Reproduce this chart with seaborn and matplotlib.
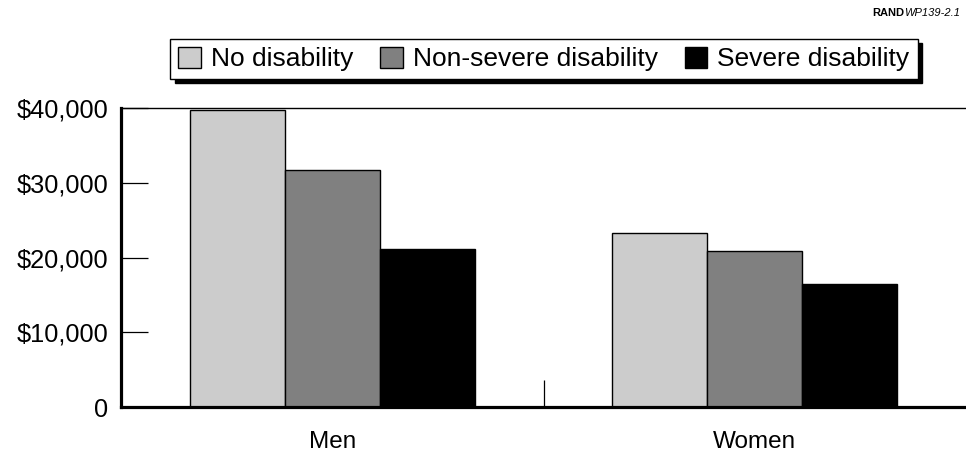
import pandas as pd
import seaborn as sns
import matplotlib.pyplot as plt
from matplotlib.ticker import FuncFormatter

# values (median earnings, dollars)
groups = ['Men', 'Women']
status = ['No disability', 'Non-severe disability', 'Severe disability']
men_vals = [39700, 31750, 21150]
women_vals = [23300, 20900, 16400]
colors = ['#cccccc', '#808080', '#000000']

df = pd.DataFrame({
    'group': [g for g in groups for _ in status],
    'status': status * 2,
    'earnings': men_vals + women_vals,
})

sns.set_style('white')
plt.rcParams['font.family'] = ['Liberation Sans', 'DejaVu Sans']
plt.rcParams['text.color'] = 'black'
plt.rcParams['xtick.color'] = 'black'
plt.rcParams['ytick.color'] = 'black'

fig = plt.figure(figsize=(9.66, 4.53), dpi=100)
ax = fig.add_axes([0.1253, 0.1015, 0.8747, 0.66])

sns.barplot(data=df, x='group', y='earnings', hue='status', hue_order=status,
            palette=colors, width=0.675, gap=0, edgecolor='black', linewidth=1,
            saturation=1, ax=ax, legend=False)

ax.set_xlim(-0.5, 1.5)
ax.set_ylim(0, 40000)
ax.set_yticks([0, 10000, 20000, 30000, 40000])
ax.yaxis.set_major_formatter(FuncFormatter(lambda v, p: '0' if v == 0 else f'${v:,.0f}'))
ax.set_xlabel('')
ax.set_ylabel('')

# spines
ax.spines['right'].set_visible(False)
ax.spines['left'].set_linewidth(2.3)
ax.spines['bottom'].set_linewidth(2.3)
ax.spines['top'].set_linewidth(1.0)
for s in ['left', 'bottom', 'top']:
    ax.spines[s].set_color('black')

ax.tick_params(axis='y', direction='in', length=19.5, width=0.9, color='black',
               labelsize=18.3, labelcolor='black', pad=9, left=True)
ax.tick_params(axis='x', which='major', length=0, labelsize=17.5, labelcolor='black', pad=17)
ax.set_xticks([0.5], minor=True)
ax.tick_params(axis='x', which='minor', direction='in', length=19.5, width=0.9,
               color='black', bottom=True)

# legend
handles = [plt.Rectangle((0, 0), 1, 1, facecolor=c, edgecolor='black', linewidth=1)
           for c in colors]
leg = fig.legend(handles, status, ncol=3, loc='center', bbox_to_anchor=(544 / 966, 1 - 59 / 453),
                 fontsize=19, frameon=True, fancybox=False,
                 shadow={'color': 'black', 'alpha': 1, 'ox': 3, 'oy': -3},
                 edgecolor='black', handlelength=0.85, handleheight=0.85,
                 handletextpad=0.4, columnspacing=1.0, borderpad=0.3, borderaxespad=0)
leg.get_frame().set_linewidth(1)

# source tag
fig.text(0.994, 1 - 13 / 453, 'RAND', fontsize=8, fontweight='bold', ha='right', va='center')
t = fig.text(0.994, 1 - 13 / 453, 'WP139-2.1', fontsize=8, style='italic', ha='right', va='center')
fig.canvas.draw()
bb = t.get_window_extent()
fig.texts[0].set_position((bb.x0 / fig.bbox.width, 1 - 13 / 453))

fig.savefig('out.png', dpi=100)
